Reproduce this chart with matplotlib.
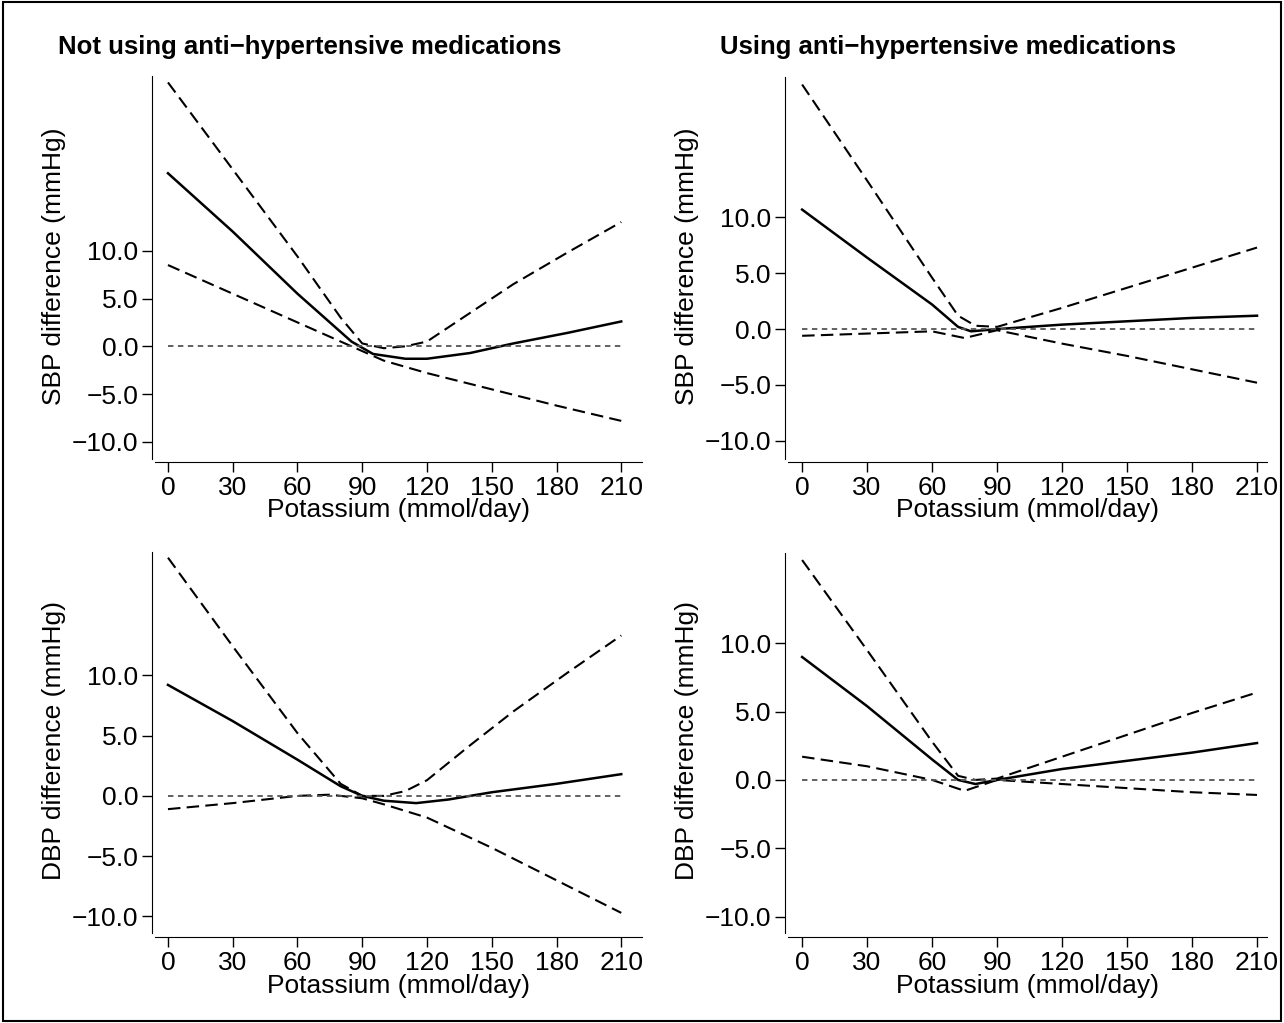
import matplotlib
matplotlib.use("Agg")
import matplotlib.pyplot as plt
from matplotlib.patches import Rectangle

plt.rcParams['font.family'] = ['Liberation Sans', 'DejaVu Sans']

titles = ["Not using anti\u2212hypertensive medications", "Using anti\u2212hypertensive medications"]
ylabels = ["SBP difference (mmHg)", "DBP difference (mmHg)"]
xticks = [0, 30, 60, 90, 120, 150, 180, 210]
yticks = [-10, -5, 0, 5, 10]

# Top-left
tl_sx = [0, 30, 60, 85, 95, 110, 120, 140, 160, 185, 210]
tl_s = [18.1, 12, 5.5, 0.5, -0.8, -1.3, -1.3, -0.7, 0.3, 1.4, 2.6]
tl_ux = [0, 30, 60, 80, 90, 100, 110, 120, 140, 160, 185, 210]
tl_u = [27.6, 18.5, 9.4, 3, 0.3, -0.2, 0, 0.5, 3.5, 6.5, 9.8, 13]
tl_lx = [0, 30, 60, 80, 90, 100, 120, 150, 180, 210]
tl_l = [8.5, 5.5, 2.5, 0.5, -0.5, -1.5, -2.8, -4.5, -6.2, -7.8]
# Top-right
tr_sx = [0, 30, 60, 72, 78, 90, 120, 150, 180, 210]
tr_s = [10.7, 6.4, 2.2, 0.2, -0.2, 0, 0.4, 0.7, 1.0, 1.2]
tr_ux = [0, 30, 60, 72, 80, 90, 120, 150, 180, 210]
tr_u = [21.9, 13.3, 4.6, 1.2, 0.3, 0.2, 1.9, 3.7, 5.5, 7.3]
tr_lx = [0, 30, 60, 75, 90, 120, 150, 180, 210]
tr_l = [-0.6, -0.4, -0.2, -0.8, -0.1, -1.3, -2.4, -3.6, -4.8]
# Bottom-left
bl_sx = [0, 30, 60, 80, 90, 100, 115, 130, 150, 180, 210]
bl_s = [9.2, 6.2, 3, 0.8, 0, -0.4, -0.6, -0.3, 0.3, 1.0, 1.8]
bl_ux = [0, 30, 60, 80, 90, 100, 110, 120, 140, 160, 185, 210]
bl_u = [19.75, 12.4, 5.2, 1, 0, 0, 0.4, 1.3, 4.2, 7, 10.2, 13.3]
bl_lx = [0, 30, 60, 75, 90, 100, 120, 150, 180, 210]
bl_l = [-1.1, -0.6, 0, 0.1, -0.2, -0.7, -1.8, -4.3, -7, -9.7]
# Bottom-right
br_sx = [0, 30, 60, 72, 80, 90, 120, 150, 180, 210]
br_s = [9, 5.4, 1.5, 0, -0.3, 0, 0.8, 1.4, 2.0, 2.7]
br_ux = [0, 30, 60, 72, 80, 90, 120, 150, 180, 210]
br_u = [16.1, 9.5, 2.8, 0.3, 0, 0.1, 1.7, 3.3, 4.9, 6.4]
br_lx = [0, 30, 60, 75, 90, 120, 150, 180, 210]
br_l = [1.7, 1.0, 0, -0.8, 0, -0.3, -0.6, -0.9, -1.1]

W, H = 1284, 1023
fig = plt.figure(figsize=(W/100, H/100), dpi=100)
fig.patches.append(Rectangle((0.002, 0.002), 0.996, 0.996, transform=fig.transFigure,
                             fill=False, edgecolor='black', lw=1.5))

panels = [
    (152, 645, 70, 462, (-7.4, 221), (-12.1, 28.9), tl_sx, tl_s, tl_ux, tl_u, tl_lx, tl_l, titles[0], ylabels[0], -0.19),
    (785, 1270, 70, 462, (-7.9, 216), (-11.9, 23.2), tr_sx, tr_s, tr_ux, tr_u, tr_lx, tr_l, titles[1], ylabels[0], -0.134),
    (152, 645, 545, 937, (-7.4, 221), (-11.7, 20.8), bl_sx, bl_s, bl_ux, bl_u, bl_lx, bl_l, None, ylabels[1], 0),
    (785, 1270, 545, 937, (-7.9, 216), (-11.5, 17.2), br_sx, br_s, br_ux, br_u, br_lx, br_l, None, ylabels[1], 0),
]

for (x0, x1, y0, y1, xl, yl, sx, s, ux, u, lx, l, title, ylab, tx) in panels:
    ax = fig.add_axes([x0/W, 1-y1/H, (x1-x0)/W, (y1-y0)/H])
    ax.plot(sx, s, color='black', lw=1.8)
    ax.plot(ux, u, color='black', lw=1.5, dashes=(6, 3))
    ax.plot(lx, l, color='black', lw=1.5, dashes=(6, 3))
    ax.plot([0, 210], [0, 0], color='#555555', lw=1.3, dashes=(3, 2.5))
    ax.set_xlim(*xl); ax.set_ylim(*yl)
    ax.set_xticks(xticks); ax.set_yticks(yticks)
    ax.set_yticklabels([f"{v:.1f}".replace('-', '\u2212') for v in yticks])
    for sp in ['top', 'right']:
        ax.spines[sp].set_visible(False)
    ax.spines['left'].set_bounds(yl[0] + 0.3, yl[1] - 0.6)
    ax.spines['bottom'].set_bounds(xl[0] + 1.5, xl[1] - 1.5)
    ax.tick_params(labelsize=19, length=7, width=1, pad=3)
    ax.set_xlabel("Potassium (mmol/day)", fontsize=19, labelpad=-1)
    ax.set_ylabel(ylab, fontsize=19, labelpad=4)
    if title:
        ax.text(tx, 1.027, title, transform=ax.transAxes, fontsize=18.5,
                fontweight='bold', ha='left', va='bottom')

fig.savefig("out.png", dpi=100)
